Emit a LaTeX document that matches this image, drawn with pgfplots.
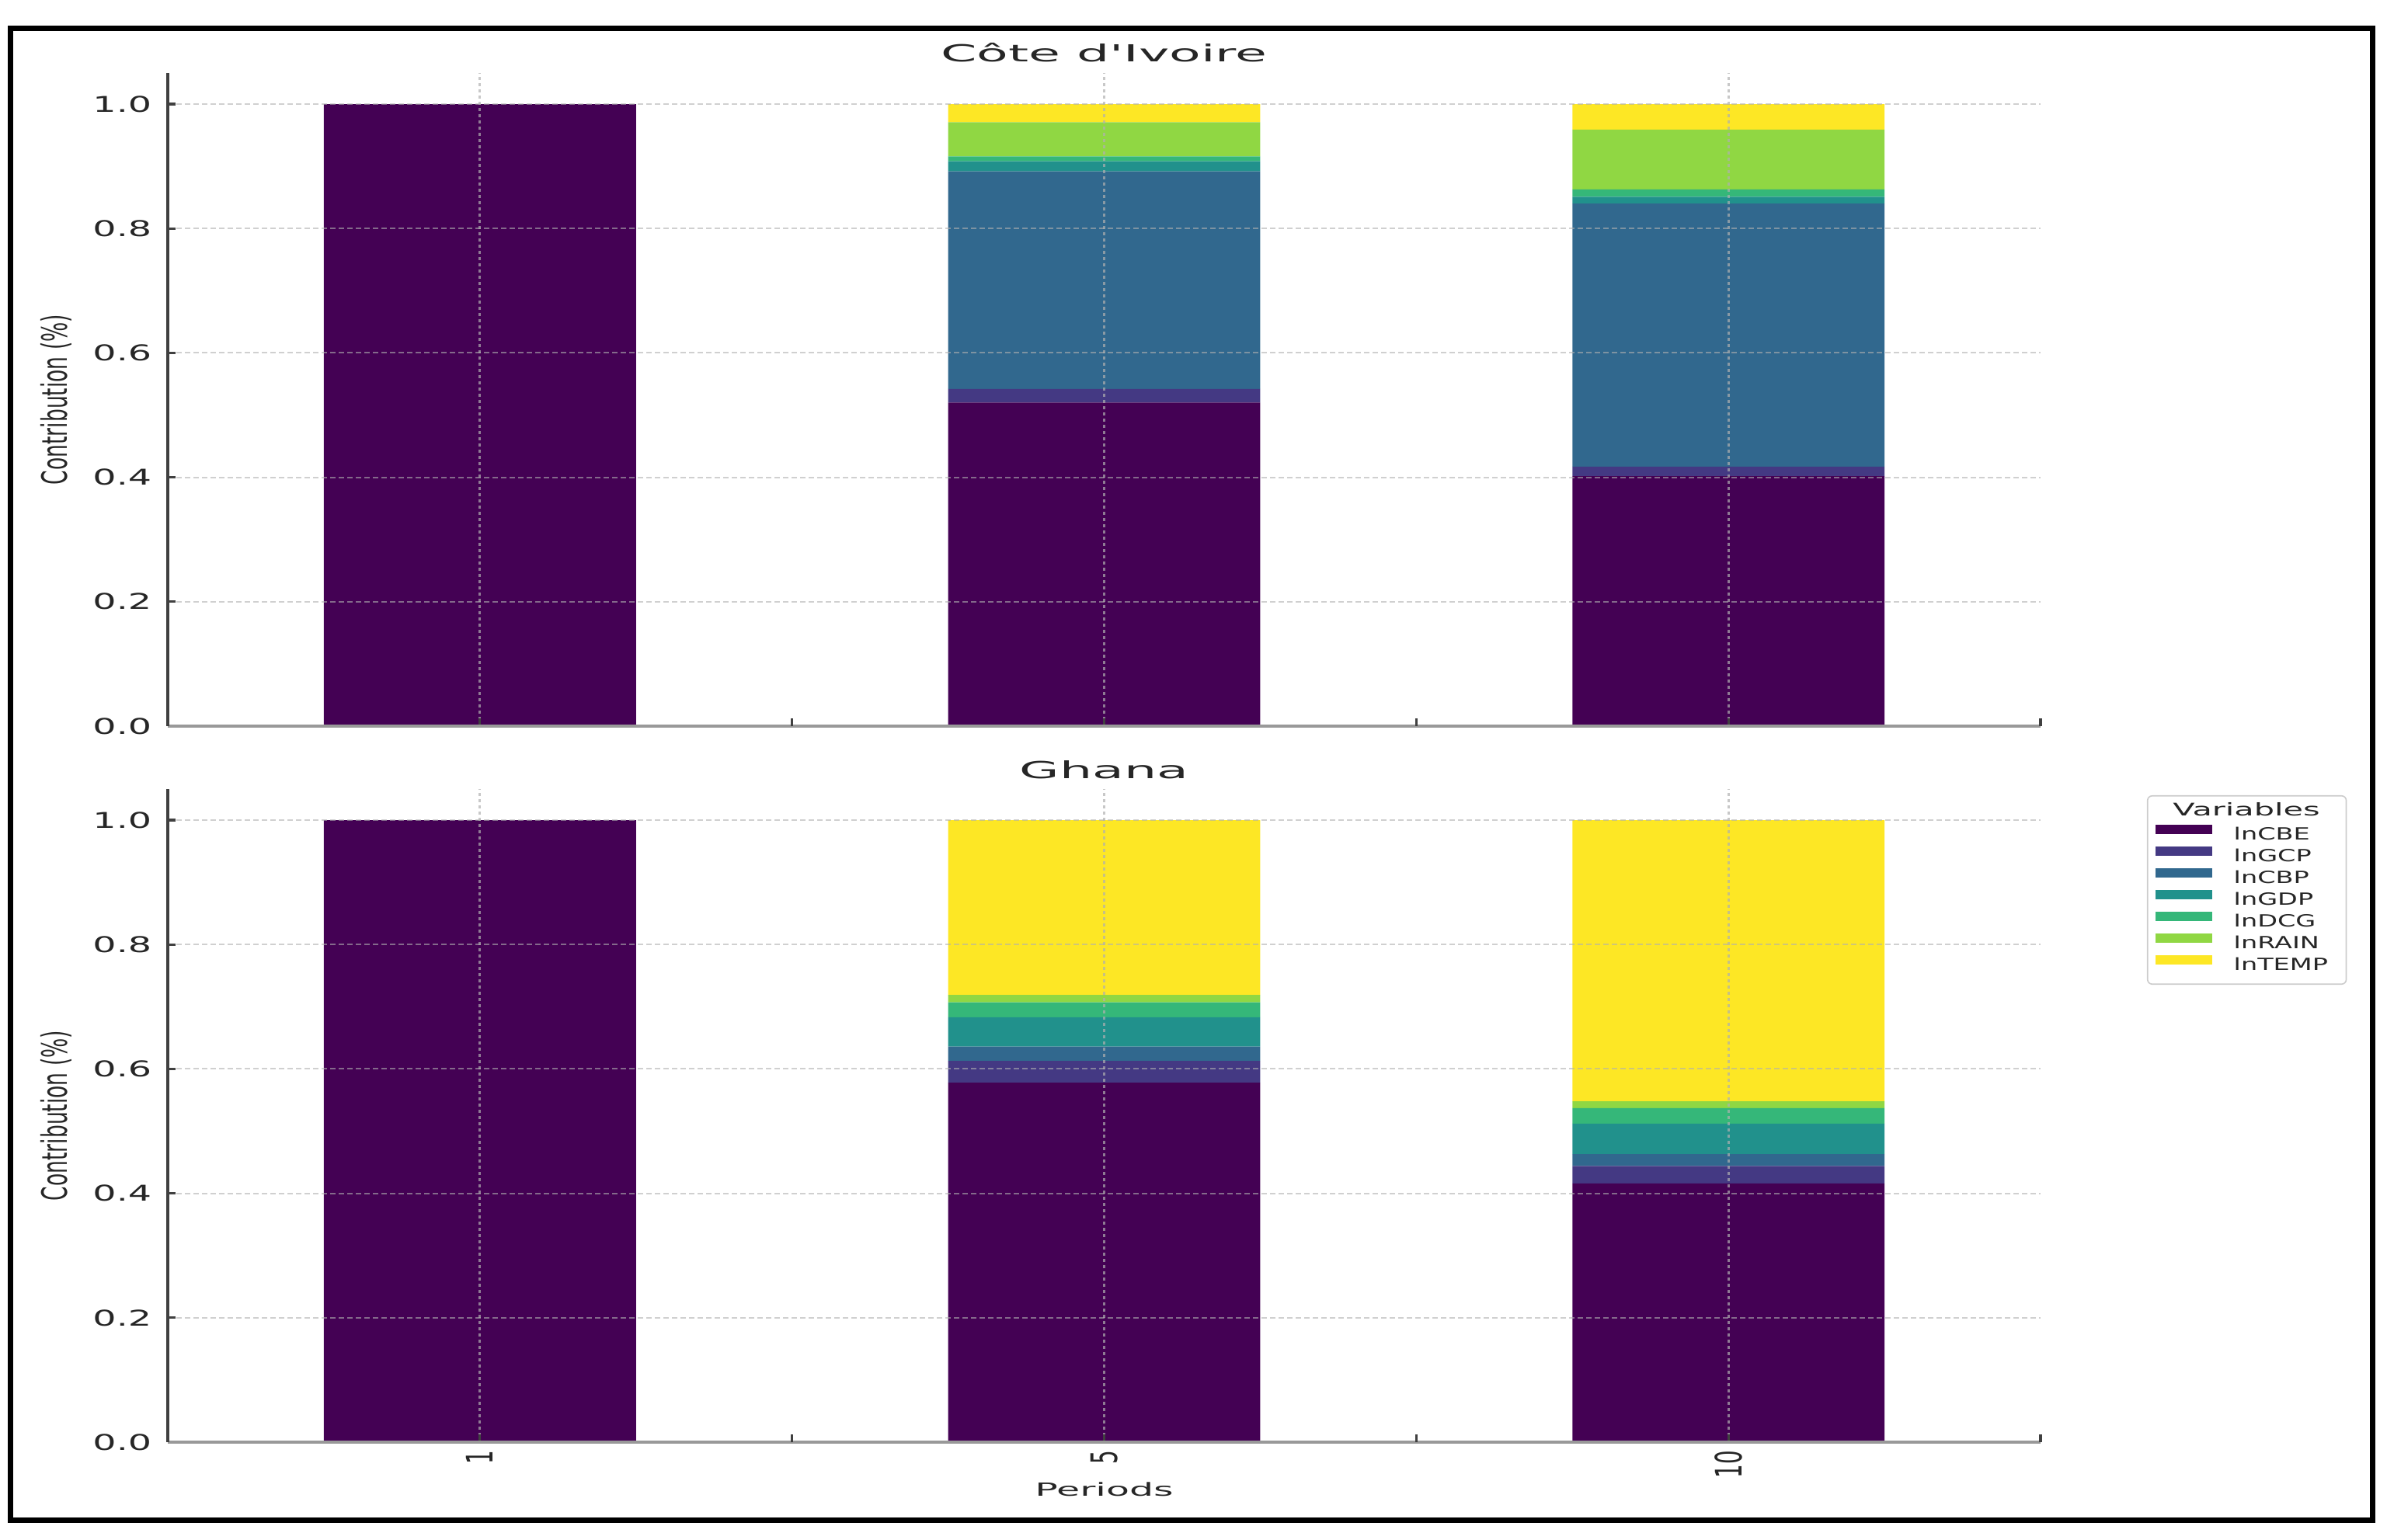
\documentclass[border=0pt]{standalone}
\usepackage{fontspec}
\setmainfont{DejaVu Sans}
\newfontfamily\titlefont[FakeStretch=2.2]{DejaVu Sans}
\newfontfamily\tickfont[FakeStretch=1.7]{DejaVu Sans}
\newfontfamily\legfont[FakeStretch=1.55]{DejaVu Sans}
\newfontfamily\legtitlefont[FakeStretch=1.85]{DejaVu Sans}
\newfontfamily\xlabfont[FakeStretch=2.1]{DejaVu Sans}
\newfontfamily\rotfont[FakeStretch=0.59]{DejaVu Sans}
\usepackage{pgfplots}
\usepackage{pgfplotstable}
\pgfplotsset{compat=1.18}

% viridis, 7 steps
\definecolor{vCBE}{HTML}{440154}
\definecolor{vGCP}{HTML}{443983}
\definecolor{vCBP}{HTML}{31688E}
\definecolor{vGDP}{HTML}{21918C}
\definecolor{vDCG}{HTML}{35B779}
\definecolor{vRAIN}{HTML}{90D743}
\definecolor{vTEMP}{HTML}{FDE725}
\definecolor{gridc}{HTML}{B0B0B0}
\definecolor{txt}{HTML}{262626}

% periods 1, 5, 10 plotted at 0, 1, 2
\pgfplotstableread{
x CBE   GCP   CBP   GDP   DCG   RAIN  TEMP
0 1.000 0     0     0     0     0     0
1 0.520 0.022 0.350 0.016 0.008 0.055 0.029
2 0.402 0.015 0.423 0.011 0.012 0.096 0.041
}\civ
\pgfplotstableread{
x CBE   GCP   CBP   GDP   DCG   RAIN  TEMP
0 1.000 0     0     0     0     0     0
1 0.578 0.035 0.023 0.047 0.024 0.012 0.281
2 0.416 0.028 0.019 0.049 0.025 0.011 0.452
}\gha

\pgfplotsset{
  vbar/.style={fill=#1, draw=none,
    legend image code/.code={\fill[#1, sharp corners] (0pt,0.6pt) rectangle (18.25pt,3.6pt);}},
  contrib/.style={
    scale only axis, width=602.75pt, height=210.25pt,
    ybar stacked, bar width=0.5,
    xmin=-0.5, xmax=2.5, ymin=0, ymax=1.05,
    xtick={0,1,2}, ytick={0,0.2,0.4,0.6,0.8,1.0},
    extra x ticks={0.5,1.5,2.5}, extra x tick labels={},
    extra x tick style={grid=none},
    axis x line*=bottom, axis y line*=left,
    x axis line style={-, draw=black!40, line width=1pt},
    y axis line style={-, draw=black!75, line width=0.8pt},
    tick align=inside, major tick length=2.5pt,
    tick style={draw=black!75, line width=0.8pt},
    axis on top,
    ymajorgrids, xmajorgrids,
    y grid style={dash pattern=on 1.75pt off 1pt, draw=gridc, opacity=0.6, line width=0.5pt},
    x grid style={dash pattern=on 1pt off 1pt, draw=gridc, opacity=0.7, line width=0.7pt},
    /pgf/number format/.cd, fixed, fixed zerofill, precision=1, assume math mode=true,
    /pgfplots/.cd,
    yticklabel style={font=\tickfont\fontsize{7}{8}\selectfont, text=txt,
      anchor=east, inner sep=0pt, xshift=-5pt},
    ylabel={Contribution (\%)},
    ylabel style={at={(axis description cs:-0.0597,0.5)}, anchor=center,
      font=\rotfont\fontsize{11.25}{12}\selectfont, text=txt},
    title style={at={(axis description cs:0.5,0.9881)}, anchor=base,
      font=\titlefont\fontsize{7.55}{9}\selectfont, text=txt},
  }
}

\begin{document}
\begin{tikzpicture}
\path (0pt,0pt) rectangle (768.25pt,495.5pt);
\draw[line width=1.75pt] (3.25pt,486.25pt) rectangle (763.5pt,6.25pt);

\begin{axis}[contrib, at={(54pt,261.75pt)}, anchor=south west,
  title={Côte d'Ivoire}, xticklabels={}]
\addplot[vbar=vCBE]  table[x=x, y=CBE]  {\civ};
\addplot[vbar=vGCP]  table[x=x, y=GCP]  {\civ};
\addplot[vbar=vCBP]  table[x=x, y=CBP]  {\civ};
\addplot[vbar=vGDP]  table[x=x, y=GDP]  {\civ};
\addplot[vbar=vDCG]  table[x=x, y=DCG]  {\civ};
\addplot[vbar=vRAIN] table[x=x, y=RAIN] {\civ};
\addplot[vbar=vTEMP] table[x=x, y=TEMP] {\civ};
\end{axis}

\begin{axis}[contrib, at={(54pt,31.25pt)}, anchor=south west,
  title={Ghana},
  xticklabels={1,5,10},
  xticklabel style={font=\rotfont\fontsize{11.75}{12}\selectfont, text=txt,
    rotate=90, anchor=east, inner sep=0pt},
  xticklabel shift=2.5pt,
  xlabel={Periods},
  xlabel style={at={(axis description cs:0.5,-0.0832)}, anchor=base,
    font=\xlabfont\fontsize{5.83}{7}\selectfont, text=txt},
  legend style={at={(axis description cs:1.0568,0.9905)}, anchor=north west,
    draw=black!20, fill=white, rounded corners=1.5pt,
    inner xsep=2.5pt, inner ysep=3pt, row sep=0.6pt, column sep=7pt,
    font=\legfont\fontsize{5.4}{6}\selectfont, text=txt,
    nodes={inner sep=0pt}},
  legend cell align=left]
\addlegendimage{empty legend}
\addlegendentry{\vphantom{l}}
\addplot[vbar=vCBE]  table[x=x, y=CBE]  {\gha}; \addlegendentry{lnCBE}
\addplot[vbar=vGCP]  table[x=x, y=GCP]  {\gha}; \addlegendentry{lnGCP}
\addplot[vbar=vCBP]  table[x=x, y=CBP]  {\gha}; \addlegendentry{lnCBP}
\addplot[vbar=vGDP]  table[x=x, y=GDP]  {\gha}; \addlegendentry{lnGDP}
\addplot[vbar=vDCG]  table[x=x, y=DCG]  {\gha}; \addlegendentry{lnDCG}
\addplot[vbar=vRAIN] table[x=x, y=RAIN] {\gha}; \addlegendentry{lnRAIN}
\addplot[vbar=vTEMP] table[x=x, y=TEMP] {\gha}; \addlegendentry{lnTEMP\hspace*{3.4pt}}
\end{axis}

\node[anchor=base, font=\legtitlefont\fontsize{5.6}{7}\selectfont, text=txt]
  at (723pt,232.75pt) {Variables};
\end{tikzpicture}
\end{document}
